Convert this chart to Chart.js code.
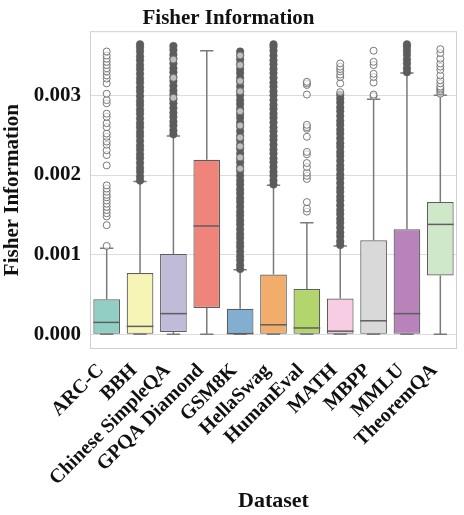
<!DOCTYPE html>
<html>
<head>
<meta charset="utf-8">
<script src="https://cdn.jsdelivr.net/npm/chart.js@4.4.0/dist/chart.umd.min.js"></script>
<style>
  html, body { margin: 0; padding: 0; background: #fff; }
</style>
</head>
<body>
<canvas id="myChart" width="464" height="515"></canvas>
<script>
// dataset names and box statistics
const categories = ['ARC-C', 'BBH', 'Chinese SimpleQA', 'GPQA Diamond', 'GSM8K', 'HellaSwag', 'HumanEval', 'MATH', 'MBPP', 'MMLU', 'TheoremQA'];
const q1 = [0.00000, 0.00000, 0.00003, 0.00033, 0.00000, 0.00000, 0.00000, 0.00000, 0.00000, 0.00000, 0.00074];
const medians = [0.00015, 0.00010, 0.00026, 0.00136, 0.00001, 0.00012, 0.00008, 0.00004, 0.00017, 0.00026, 0.00138];
const q3 = [0.00044, 0.00077, 0.00101, 0.00219, 0.00032, 0.00075, 0.00057, 0.00045, 0.00118, 0.00132, 0.00166];
const whiskerLow = [0, 0, 0, 0, 0, 0, 0, 0, 0, 0, 0];
const whiskerHigh = [0.00108, 0.00192, 0.00249, 0.00356, 0.00081, 0.00187, 0.00140, 0.00111, 0.00295, 0.00328, 0.00300];
const yTicks = [0.000, 0.001, 0.002, 0.003];

// sparse outliers (open circles), per dataset
const outliers = [
  [0.00111, 0.00137, 0.00148, 0.00152, 0.00156, 0.00160, 0.00164, 0.00168, 0.00172, 0.00175, 0.00179, 0.00183, 0.00187, 0.00212, 0.00225, 0.00231, 0.00238, 0.00242, 0.00248, 0.00252, 0.00260, 0.00265, 0.00273, 0.00277, 0.00290, 0.00294, 0.00302, 0.00315, 0.00321, 0.00325, 0.00330, 0.00334, 0.00338, 0.00342, 0.00346, 0.00350, 0.00355],
  [],
  [0.00297, 0.00322, 0.00345],
  [],
  [0.00208, 0.00222, 0.00236, 0.00247, 0.00262, 0.00280, 0.00305, 0.00318, 0.00338, 0.00350],
  [],
  [0.00154, 0.00158, 0.00166, 0.00195, 0.00199, 0.00203, 0.00210, 0.00215, 0.00226, 0.00229, 0.00248, 0.00258, 0.00260, 0.00263, 0.00301, 0.00313, 0.00315, 0.00317],
  [0.00304, 0.00315, 0.00323, 0.00326, 0.00330, 0.00333, 0.00336, 0.00340],
  [0.00299, 0.00301, 0.00316, 0.00323, 0.00327, 0.00338, 0.00342, 0.00356],
  [],
  [0.00302, 0.00305, 0.00307, 0.00309, 0.00311, 0.00315, 0.00319, 0.00325, 0.00332, 0.00336, 0.00340, 0.00346, 0.00353, 0.00358]
];

// dense outlier runs (they merge into a solid column), per dataset
const denseOutliers = [
  [],
  [0.00193, 0.00198, 0.00204, 0.00209, 0.00215, 0.00221, 0.00226, 0.00232, 0.00237, 0.00243, 0.00249, 0.00254, 0.00260, 0.00265, 0.00271, 0.00277, 0.00282, 0.00288, 0.00293, 0.00299, 0.00305, 0.00310, 0.00316, 0.00321, 0.00327, 0.00333, 0.00338, 0.00344, 0.00349, 0.00355, 0.00360, 0.00364],
  [0.00251, 0.00256, 0.00262, 0.00267, 0.00273, 0.00278, 0.00284, 0.00290, 0.00295, 0.00301, 0.00306, 0.00312, 0.00318, 0.00323, 0.00329, 0.00334, 0.00340, 0.00346, 0.00351, 0.00357, 0.00362],
  [],
  [0.00082, 0.00087, 0.00093, 0.00098, 0.00104, 0.00110, 0.00115, 0.00121, 0.00126, 0.00132, 0.00138, 0.00143, 0.00149, 0.00154, 0.00160, 0.00166, 0.00171, 0.00177, 0.00182, 0.00188, 0.00193, 0.00199, 0.00205, 0.00210, 0.00216, 0.00221, 0.00227, 0.00233, 0.00238, 0.00244, 0.00249, 0.00255, 0.00261, 0.00266, 0.00272, 0.00277, 0.00283, 0.00289, 0.00294, 0.00300, 0.00305, 0.00311, 0.00317, 0.00322, 0.00328, 0.00333, 0.00339, 0.00345, 0.00350, 0.00355],
  [0.00188, 0.00193, 0.00199, 0.00204, 0.00210, 0.00216, 0.00221, 0.00227, 0.00232, 0.00238, 0.00244, 0.00249, 0.00255, 0.00260, 0.00266, 0.00272, 0.00277, 0.00283, 0.00288, 0.00294, 0.00300, 0.00305, 0.00311, 0.00316, 0.00322, 0.00328, 0.00333, 0.00339, 0.00344, 0.00350, 0.00356, 0.00361, 0.00364],
  [],
  [0.00112, 0.00117, 0.00123, 0.00128, 0.00134, 0.00140, 0.00145, 0.00151, 0.00156, 0.00162, 0.00168, 0.00173, 0.00179, 0.00184, 0.00190, 0.00196, 0.00201, 0.00207, 0.00212, 0.00218, 0.00224, 0.00229, 0.00235, 0.00240, 0.00246, 0.00252, 0.00257, 0.00263, 0.00268, 0.00274, 0.00280, 0.00285, 0.00291, 0.00296, 0.00301],
  [],
  [0.00329, 0.00334, 0.00340, 0.00345, 0.00351, 0.00356, 0.00361, 0.00364],
  []
];

const boxColors = ['#91cec4', '#f6f5b6', '#bfbbd8', '#ef857a', '#82afd1', '#f2ad6a', '#b2d56e', '#f6cde2', '#d9d9d9', '#b783ba', '#cfe8c9'];
const FONT = "'Liberation Serif', 'Times New Roman', serif";
const LINE = '#5e5e5e';

function toPoints(lists) {
    let pts = [];
    for (let i = 0; i < lists.length; i++) {
        for (let j = 0; j < lists[i].length; j++) {
            pts.push({x: categories[i], y: lists[i][j]});
        }
    }
    return pts;
}

// whiskers, caps, medians and the plot frame
const boxParts = {
    id: 'boxParts',
    beforeDatasetsDraw(chart) {
        const ctx = chart.ctx;
        const x = chart.scales.x, y = chart.scales.y;
        const a = chart.chartArea;
        const bars = chart.getDatasetMeta(0).data;
        ctx.save();
        ctx.strokeStyle = '#cfcfcf';
        ctx.lineWidth = 1;
        ctx.strokeRect(a.left + 0.5, a.top + 0.5, a.right - a.left - 1, a.bottom - a.top - 1);
        ctx.strokeStyle = '#7a7a7a';
        ctx.lineWidth = 1.5;
        for (let i = 0; i < categories.length; i++) {
            const cx = x.getPixelForValue(i);
            const w = bars[i].width / 2;
            const yLo = y.getPixelForValue(whiskerLow[i]);
            const yHi = y.getPixelForValue(whiskerHigh[i]);
            ctx.beginPath();
            ctx.moveTo(cx, yLo); ctx.lineTo(cx, y.getPixelForValue(q1[i]));
            ctx.moveTo(cx, y.getPixelForValue(q3[i])); ctx.lineTo(cx, yHi);
            ctx.moveTo(cx - w / 2, yLo); ctx.lineTo(cx + w / 2, yLo);
            ctx.moveTo(cx - w / 2, yHi); ctx.lineTo(cx + w / 2, yHi);
            ctx.stroke();
        }
        ctx.restore();
    },
    afterDatasetsDraw(chart) {
        const ctx = chart.ctx;
        const x = chart.scales.x, y = chart.scales.y;
        const bars = chart.getDatasetMeta(0).data;
        ctx.save();
        ctx.strokeStyle = LINE;
        ctx.lineWidth = 1.5;
        for (let i = 0; i < categories.length; i++) {
            const cx = x.getPixelForValue(i);
            const w = bars[i].width / 2;
            const ym = y.getPixelForValue(medians[i]);
            ctx.beginPath();
            ctx.moveTo(cx - w, ym); ctx.lineTo(cx + w, ym);
            ctx.stroke();
        }
        ctx.restore();
    }
};

const data = {
    labels: categories,
    datasets: [{
        type: 'bar',
        label: 'box',
        data: categories.map((c, i) => [q1[i], q3[i]]),
        backgroundColor: boxColors,
        borderColor: LINE,
        borderWidth: 1.2,
        borderSkipped: false,
        barPercentage: 0.8,
        categoryPercentage: 1.0,
        order: 3
    },
    {
        type: 'line',
        label: 'dense',
        data: toPoints(denseOutliers),
        showLine: false,
        pointRadius: 3.8,
        pointBackgroundColor: '#5c5c5c',
        pointBorderColor: '#5c5c5c',
        pointBorderWidth: 0.5,
        order: 2
    },
    {
        type: 'line',
        label: 'outliers',
        data: toPoints(outliers),
        showLine: false,
        pointRadius: 3.5,
        pointBackgroundColor: 'rgba(255,255,255,0.6)',
        pointBorderColor: '#6a6a6a',
        pointBorderWidth: 0.9,
        order: 1
    }]
};

const config = {
    type: 'bar',
    data: data,
    options: {
        responsive: false,
        animation: false,
        devicePixelRatio: 1,
        layout: { padding: { left: 0, right: 7, top: 0, bottom: 0 } },
        plugins: {
            legend: { display: false },
            tooltip: { enabled: false },
            title: {
                display: true,
                text: 'Fisher Information',
                color: '#111',
                font: { family: FONT, size: 21, weight: 'bold' },
                padding: { top: 6, bottom: 0 }
            }
        },
        scales: {
            x: {
                type: 'category',
                offset: true,
                grid: { display: false },
                border: { display: false },
                ticks: {
                    color: '#111',
                    font: { family: FONT, size: 20, weight: 'bold' },
                    minRotation: 45,
                    maxRotation: 45,
                    autoSkip: false,
                    padding: 2,
                    labelOffset: -6
                },
                title: {
                    display: true,
                    text: 'Dataset',
                    color: '#111',
                    font: { family: FONT, size: 22, weight: 'bold' },
                    padding: { top: 0, bottom: 0 }
                },
                afterFit: (axis) => { axis.height = 166; }
            },
            y: {
                min: -0.000184,
                max: 0.003805,
                afterBuildTicks: (axis) => { axis.ticks = yTicks.map(v => ({ value: v })); },
                grid: { color: '#dcdcdc', lineWidth: 1, drawTicks: false },
                border: { display: false },
                ticks: {
                    color: '#111',
                    font: { family: FONT, size: 21, weight: 'bold' },
                    padding: 9,
                    callback: (v) => v.toFixed(3)
                },
                title: {
                    display: true,
                    text: 'Fisher Information',
                    color: '#111',
                    font: { family: FONT, size: 21, weight: 'bold' },
                    padding: { top: 0, bottom: 0 }
                },
                afterFit: (axis) => { axis.width = 90; }
            }
        }
    },
    plugins: [boxParts]
};

let myChart = new Chart(document.getElementById('myChart').getContext('2d'), config);
</script>
</body>
</html>
